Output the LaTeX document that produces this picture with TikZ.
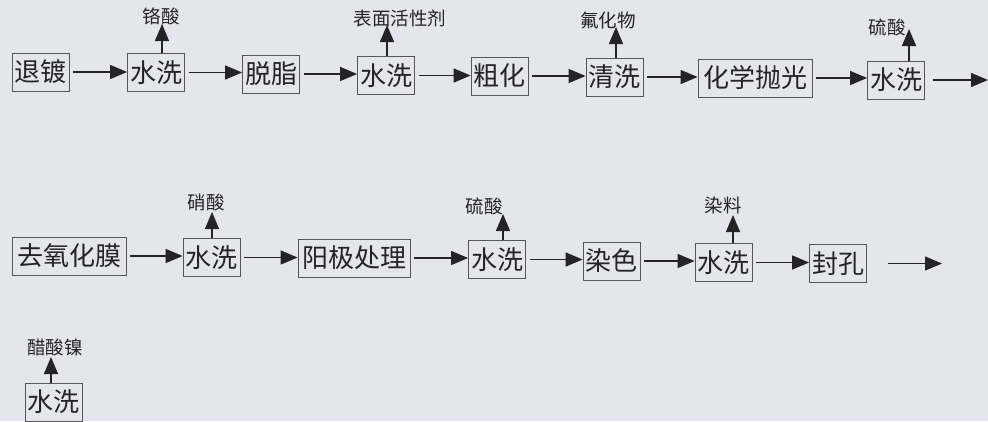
\documentclass[tikz,border=0pt]{standalone}
\usepackage{fontspec}
\newfontfamily\cjk{Noto Sans CJK SC}
\usetikzlibrary{arrows.meta}
\definecolor{bgc}{RGB}{229,229,237}
\definecolor{ink}{RGB}{35,35,40}
\definecolor{boxc}{RGB}{85,85,90}
\begin{document}
\begin{tikzpicture}[x=1pt,y=-1pt]
\tikzset{
 box/.style={draw=boxc, line width=0.8pt, font=\cjk\fontsize{26}{26}\selectfont, text=ink, inner sep=0pt, minimum height=38pt, minimum width=57pt},
 wide/.style={box, minimum width=114pt},
 lab/.style={font=\cjk\fontsize{18.5}{19}\selectfont, text=ink, inner sep=0pt},
 arr/.style={draw=ink, line width=1.4pt, -{Triangle[length=17pt,width=14pt]}},
 harr/.style={arr, shorten <=4pt},
}
\fill[bgc] (0,0) rectangle (988,421);
\useasboundingbox (0,0) rectangle (988,421);
% row 1
\node[box] (a1) at (40.5,72) {退镀};
\node[box] (a2) at (156,72.5) {水洗};
\node[box] (a3) at (271,74) {脱脂};
\node[box] (a4) at (386,75.5) {水洗};
\node[box] (a5) at (499.5,76) {粗化};
\node[box] (a6) at (614.5,77) {清洗};
\node[wide] (a7) at (755,78) {化学抛光};
\node[box] (a8) at (896,80) {水洗};
\coordinate (a9) at (988,83);
\draw[harr] (a1.east) -- (a1.east -| a2.west);
\draw[harr] (a2.east) -- (a2.east -| a3.west);
\draw[harr] (a3.east) -- (a3.east -| a4.west);
\draw[harr] (a4.east) -- (a4.east -| a5.west);
\draw[harr] (a5.east) -- (a5.east -| a6.west);
\draw[harr] (a6.east) -- (a6.east -| a7.west);
\draw[harr] (a7.east) -- (a7.east -| a8.west);
\draw[harr, shorten <=8pt] (a8.east) -- (a8.east -| a9);
% labels row 1
\node[lab] (l2) at (161,16) {铬酸};
\node[lab] (l4) at (400,18) {表面活性剂};
\node[lab] (l6) at (608,20) {氟化物};
\node[lab] (l8) at (887,27) {硫酸};
\coordinate (t2) at (162,24);
\coordinate (t4) at (387,25);
\coordinate (t6) at (616,27);
\coordinate (t8) at (909,29);
\draw[arr] (a2.north -| t2) -- (t2);
\draw[arr] (a4.north -| t4) -- (t4);
\draw[arr] (a6.north -| t6) -- (t6);
\draw[arr] (a8.north -| t8) -- (t8);
% row 2
\node[wide] (b1) at (69,256) {去氧化膜};
\node[box] (b2) at (211.5,257.5) {水洗};
\node[wide, minimum width=112pt] (b3) at (354,258) {阳极处理};
\node[box] (b4) at (497,259.5) {水洗};
\node[box] (b5) at (611.5,261) {染色};
\node[box] (b6) at (723.5,262.5) {水洗};
\node[box] (b7) at (838,263.5) {封孔};
\coordinate (b8) at (942,267);
\draw[harr] (b1.east) -- (b1.east -| b2.west);
\draw[harr] (b2.east) -- (b2.east -| b3.west);
\draw[harr] (b3.east) -- (b3.east -| b4.west);
\draw[harr] (b4.east) -- (b4.east -| b5.west);
\draw[harr] (b5.east) -- (b5.east -| b6.west);
\draw[harr] (b6.east) -- (b6.east -| b7.west);
\draw[harr, shorten <=21pt] (b7.east) -- (b7.east -| b8);
\node[lab] (m2) at (206,202) {硝酸};
\node[lab] (m4) at (484,206) {硫酸};
\node[lab] (m6) at (723,205) {染料};
\coordinate (s2) at (212,212);
\coordinate (s4) at (503,214);
\coordinate (s6) at (733,215);
\draw[arr] (b2.north -| s2) -- (s2);
\draw[arr] (b4.north -| s4) -- (s4);
\draw[arr] (b6.north -| s6) -- (s6);
% row 3
\node[box] (c1) at (53.5,402) {水洗};
\node[lab] (n1) at (55,347) {醋酸镍};
\coordinate (u1) at (51,357);
\draw[arr] (c1.north -| u1) -- (u1);
\end{tikzpicture}
\end{document}
